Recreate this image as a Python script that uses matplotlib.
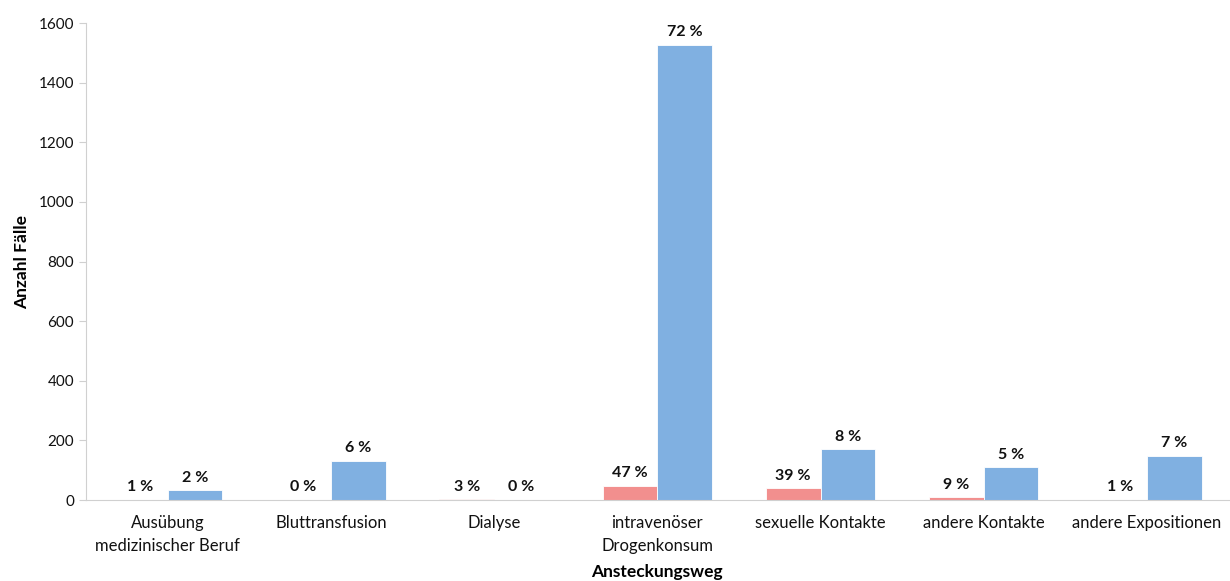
import numpy as np
import matplotlib.pyplot as plt

plt.rcParams['font.family'] = ['Lato', 'DejaVu Sans']

# Ansteckungswege und Fallzahlen je Gruppe
wege = ['Ausübung\nmedizinischer Beruf', 'Bluttransfusion', 'Dialyse',
        'intravenöser\nDrogenkonsum', 'sexuelle Kontakte', 'andere Kontakte',
        'andere Expositionen']
faelle_rot = [1, 0, 3, 47, 39, 9, 1]
faelle_blau = [33, 132, 0, 1527, 170, 110, 148]

farbe_rot = '#F28F8E'
farbe_blau = '#80B0E1'

x = np.arange(len(wege))
b = 0.335

fig = plt.figure(figsize=(12.3, 5.81), dpi=100)
ax = fig.add_axes([0.0699, 0.1394, 0.929, 0.821])

for werte, farbe, dx in [(faelle_rot, farbe_rot, -b / 2), (faelle_blau, farbe_blau, b / 2)]:
    werte = np.array(werte)
    prozent = np.round(werte / werte.sum() * 100).astype(int)
    bars = ax.bar(x + dx, werte, width=b, color=farbe, edgecolor='white', linewidth=0.6)
    for rect, p in zip(bars, prozent):
        ax.annotate(f'{p} %', (rect.get_x() + rect.get_width() / 2, rect.get_height()),
                    xytext=(0, 4), textcoords='offset points', ha='center', va='bottom',
                    fontsize=11.5, fontweight='bold', color='#111111')

ax.set_xlim(-0.5, len(wege) - 0.5)
ax.set_ylim(0, 1600)
ax.set_yticks(range(0, 1601, 200))
ax.set_xticks(x)
ax.set_xticklabels(wege, fontsize=12, color='#111111', linespacing=1.55)
ax.tick_params(axis='y', labelsize=11, labelcolor='#111111', color='#D0D0D0', length=5)
ax.tick_params(axis='x', length=0, pad=11)

for s in ['top', 'right']:
    ax.spines[s].set_visible(False)
for s in ['left', 'bottom']:
    ax.spines[s].set_color('#D0D0D0')

ax.set_ylabel('Anzahl Fälle', fontsize=12.5, fontweight='bold', labelpad=6)
ax.set_xlabel('Ansteckungsweg', fontsize=12.5, fontweight='bold', labelpad=7)

fig.savefig('out.png', dpi=100)
